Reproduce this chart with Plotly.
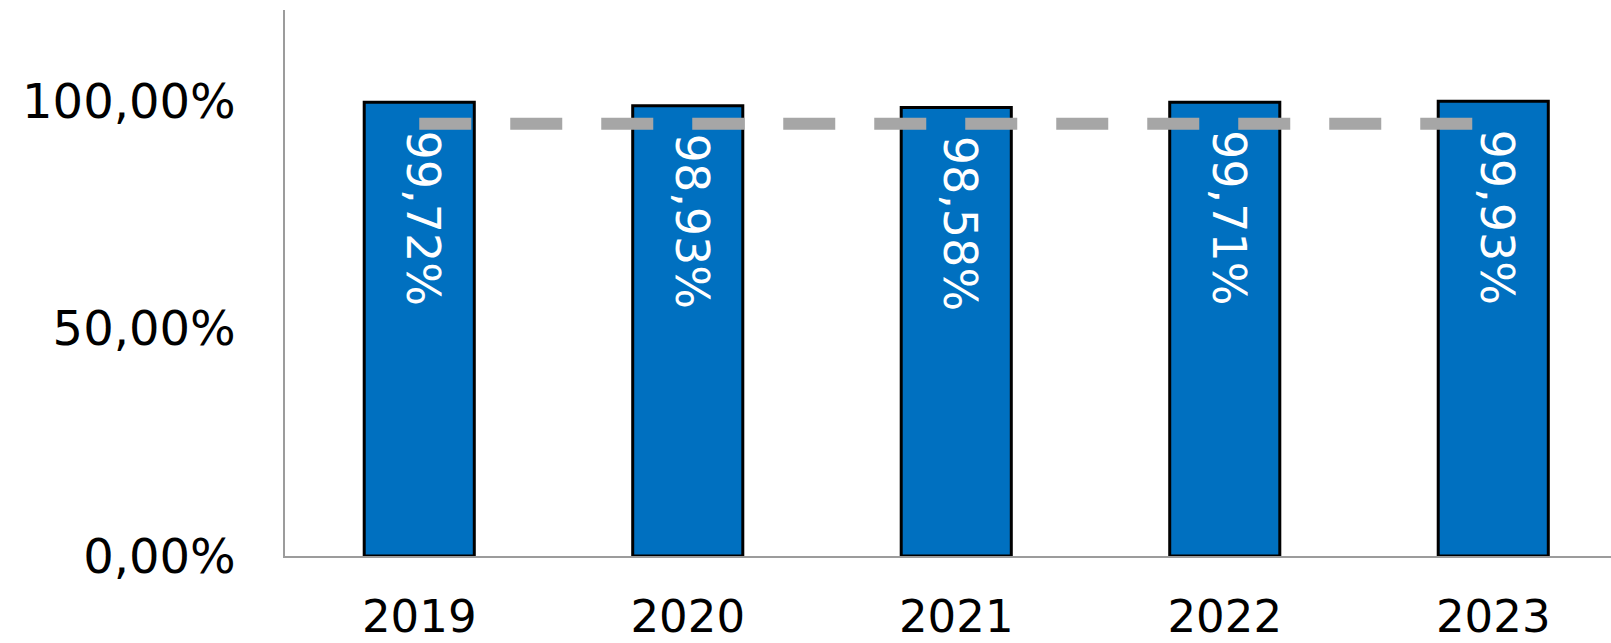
import plotly.graph_objects as go

# Yearly share, in percent
years = ["2019", "2020", "2021", "2022", "2023"]
shares = [99.72, 98.93, 98.58, 99.71, 99.93]
# Reference level drawn as a dashed line
target = [95, 95, 95, 95, 95]
y_ticks = [0, 50, 100]
y_tick_labels = ["0,00%", "50,00%", "100,00%"]

BAR_BLUE = "#0070C0"
AXIS_GREY = "#9C9C9C"
FONT = "DejaVu Sans"


def pct(v):
    return f"{v:.2f}%".replace(".", ",")


fig = go.Figure()

fig.add_trace(go.Bar(
    x=years,
    y=shares,
    width=0.41,
    marker=dict(color=BAR_BLUE, line=dict(color="#000000", width=3)),
    hoverinfo="skip",
))

fig.add_trace(go.Scatter(
    x=years,
    y=target,
    mode="lines",
    line=dict(color="#A6A6A6", width=12, dash="52px,39px"),
    hoverinfo="skip",
))

# Value labels written vertically at the top inside each bar
for i, v in enumerate(shares):
    fig.add_annotation(
        x=i, y=v, xref="x", yref="y",
        text=pct(v),
        textangle=90,
        showarrow=False,
        xanchor="center", yanchor="top",
        yshift=-26, xshift=4,
        font=dict(family=FONT, size=46, color="#FFFFFF"),
    )

fig.update_layout(
    width=1611, height=643,
    margin=dict(l=285, r=0, t=10, b=87),
    paper_bgcolor="#FFFFFF",
    plot_bgcolor="#FFFFFF",
    showlegend=False,
    font=dict(family=FONT, size=45, color="#000000"),
)

fig.update_xaxes(
    type="category",
    range=[-0.5, 4.4385],
    automargin=False,
    showline=True, linecolor=AXIS_GREY, linewidth=1.5,
    showgrid=False, zeroline=False,
    ticks="", ticklabelstandoff=20,
    tickfont=dict(family=FONT, size=45, color="#000000"),
    fixedrange=True,
)

fig.update_yaxes(
    range=[0, 120],
    automargin=False,
    tickmode="array",
    tickvals=y_ticks,
    ticktext=y_tick_labels,
    showline=True, linecolor=AXIS_GREY, linewidth=1.5,
    showgrid=False, zeroline=False,
    ticks="", ticklabelstandoff=38,
    tickfont=dict(family=FONT, size=48, color="#000000"),
    fixedrange=True,
)

fig.write_html("out.html", config={"displayModeBar": False})
